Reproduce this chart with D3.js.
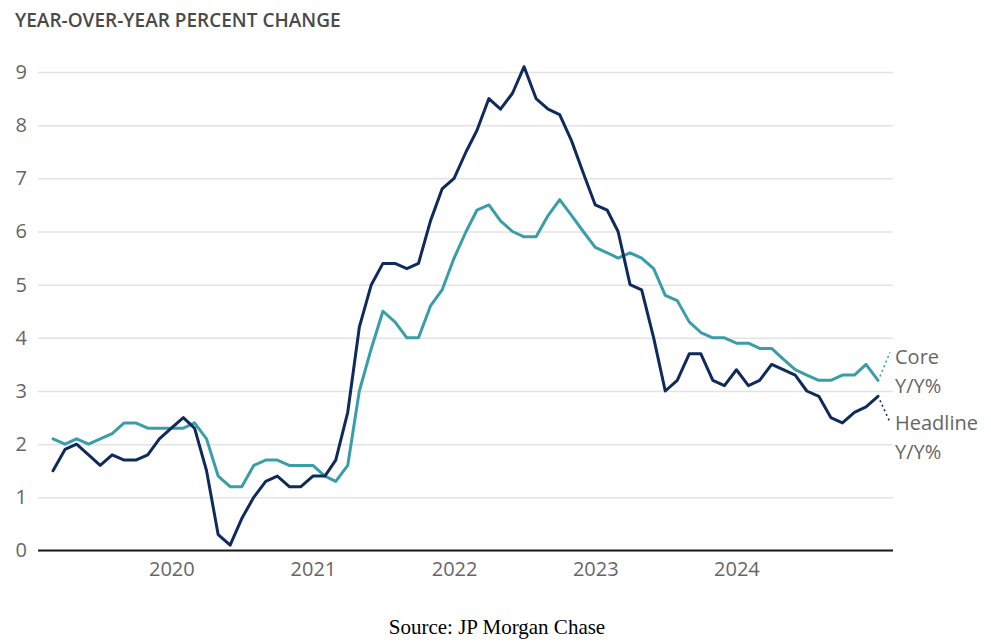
<!DOCTYPE html>
<html>
<head>
<meta charset="utf-8">
<script src="https://cdn.jsdelivr.net/npm/d3@7"></script>
<style>
  html, body { margin: 0; padding: 0; background: #fff; }
  svg { display: block; }
</style>
</head>
<body>
<svg id="chart" width="991" height="642"></svg>
<script>
// ---- Data (monthly, Feb 2019 – Dec 2024) ----
const startYear = 2019, startMonth = 1; // Feb 2019 (0-based month)
const headline = [
  1.5, 1.9, 2.0, 1.8, 1.6, 1.8, 1.7, 1.7, 1.8, 2.1, 2.3,
  2.5, 2.3, 1.5, 0.3, 0.1, 0.6, 1.0, 1.3, 1.4, 1.2, 1.2, 1.4,
  1.4, 1.7, 2.6, 4.2, 5.0, 5.4, 5.4, 5.3, 5.4, 6.2, 6.8, 7.0,
  7.5, 7.9, 8.5, 8.3, 8.6, 9.1, 8.5, 8.3, 8.2, 7.7, 7.1, 6.5,
  6.4, 6.0, 5.0, 4.9, 4.0, 3.0, 3.2, 3.7, 3.7, 3.2, 3.1, 3.4,
  3.1, 3.2, 3.5, 3.4, 3.3, 3.0, 2.9, 2.5, 2.4, 2.6, 2.7, 2.9
];
const core = [
  2.1, 2.0, 2.1, 2.0, 2.1, 2.2, 2.4, 2.4, 2.3, 2.3, 2.3,
  2.3, 2.4, 2.1, 1.4, 1.2, 1.2, 1.6, 1.7, 1.7, 1.6, 1.6, 1.6,
  1.4, 1.3, 1.6, 3.0, 3.8, 4.5, 4.3, 4.0, 4.0, 4.6, 4.9, 5.5,
  6.0, 6.4, 6.5, 6.2, 6.0, 5.9, 5.9, 6.3, 6.6, 6.3, 6.0, 5.7,
  5.6, 5.5, 5.6, 5.5, 5.3, 4.8, 4.7, 4.3, 4.1, 4.0, 4.0, 3.9,
  3.9, 3.8, 3.8, 3.6, 3.4, 3.3, 3.2, 3.2, 3.3, 3.3, 3.5, 3.2
];
const yTicks = [0, 1, 2, 3, 4, 5, 6, 7, 8, 9];
const xTickYears = [2020, 2021, 2022, 2023, 2024];
const titleText = "YEAR-OVER-YEAR PERCENT CHANGE";
const sourceText = "Source: JP Morgan Chase";
const seriesLabels = { core: ["Core", "Y/Y%"], headline: ["Headline", "Y/Y%"] };

// Each monthly reading plotted at the end of its month
const dateOf = i => new Date(startYear, startMonth + i + 1, 1);

const svg = d3.select("#chart");
const gridLeft = 38, gridRight = 893;

const x = d3.scaleTime()
  .domain([dateOf(0), dateOf(headline.length - 1)])
  .range([53, 878]);
const y = d3.scaleLinear().domain([0, 9]).range([550.5, 72]);

// Title
svg.append("text")
  .attr("x", 15).attr("y", 27)
  .attr("font-family", "'Open Sans', sans-serif")
  .attr("font-weight", 600)
  .attr("font-size", 19)
  .attr("fill", "#4a4a4a")
  .text(titleText);

// Y axis with gridlines
const yAxis = svg.append("g")
  .attr("transform", `translate(${gridLeft},0)`)
  .call(d3.axisLeft(y).tickValues(yTicks).tickFormat(d3.format("d"))
    .tickSize(-(gridRight - gridLeft)).tickPadding(11));
yAxis.select(".domain").remove();
yAxis.selectAll(".tick line").attr("stroke", "#e3e3e3").attr("stroke-width", 1.5);
yAxis.selectAll(".tick text")
  .attr("font-family", "'Open Sans', sans-serif")
  .attr("font-size", 20)
  .attr("fill", "#666");

// Zero baseline
svg.append("line")
  .attr("x1", gridLeft).attr("x2", gridRight)
  .attr("y1", y(0)).attr("y2", y(0))
  .attr("stroke", "#1a1a1a").attr("stroke-width", 2);

// X axis
const xAxis = svg.append("g")
  .attr("transform", `translate(0,${y(0)})`)
  .call(d3.axisBottom(x)
    .tickValues(xTickYears.map(yr => new Date(yr, 0, 1)))
    .tickFormat(d3.timeFormat("%Y"))
    .tickSize(0).tickPadding(11));
xAxis.select(".domain").remove();
xAxis.selectAll(".tick text")
  .attr("font-family", "'Open Sans', sans-serif")
  .attr("font-size", 20)
  .attr("fill", "#666");

// Lines
const line = d3.line().x((d, i) => x(dateOf(i))).y(d => y(d)).curve(d3.curveLinear);
const coreColor = "#3a9ea8", headColor = "#0f2b5b";
svg.append("path").datum(core)
  .attr("d", line).attr("fill", "none")
  .attr("stroke", coreColor).attr("stroke-width", 3)
  .attr("stroke-linejoin", "round").attr("stroke-linecap", "round");
svg.append("path").datum(headline)
  .attr("d", line).attr("fill", "none")
  .attr("stroke", headColor).attr("stroke-width", 3)
  .attr("stroke-linejoin", "round").attr("stroke-linecap", "round");

// End labels with dotted leaders
const lastI = headline.length - 1;
const lx = x(dateOf(lastI));
const labelX = 895;
function endLabel(vals, color, lines, dy1, dy2, baseY) {
  const py = y(vals[lastI]);
  svg.append("line")
    .attr("x1", lx + 2).attr("y1", py + dy1)
    .attr("x2", lx + 12).attr("y2", py + dy2)
    .attr("stroke", color).attr("stroke-width", 1.6)
    .attr("stroke-dasharray", "2,3");
  lines.forEach((t, k) => {
    svg.append("text")
      .attr("x", labelX).attr("y", baseY + k * 29)
      .attr("font-family", "'Open Sans', sans-serif")
      .attr("font-size", 20)
      .attr("fill", "#666")
      .text(t);
  });
}
endLabel(core, coreColor, seriesLabels.core, -4, -28, 364);
endLabel(headline, headColor, seriesLabels.headline, 4, 26, 430);

// Source
svg.append("text")
  .attr("x", 497).attr("y", 634)
  .attr("text-anchor", "middle")
  .attr("font-family", "'Liberation Serif', 'Times New Roman', serif")
  .attr("font-size", 21)
  .attr("fill", "#000")
  .text(sourceText);
</script>
</body>
</html>
